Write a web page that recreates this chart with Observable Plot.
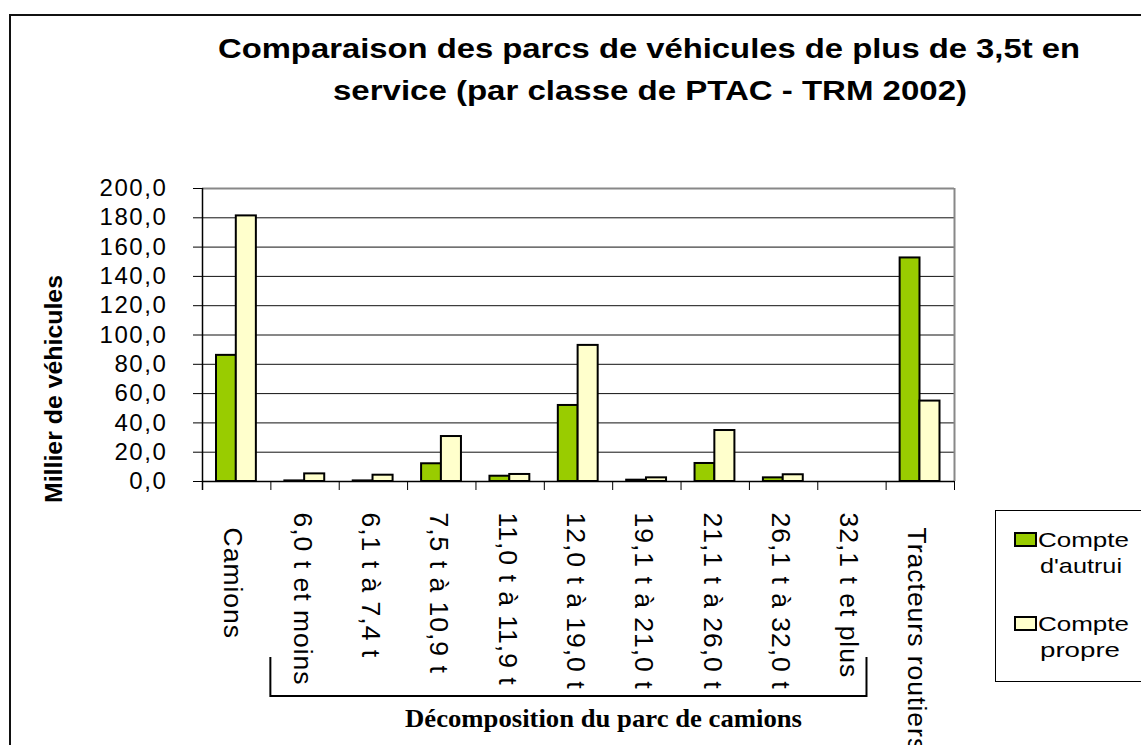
<!DOCTYPE html>
<html>
<head>
<meta charset="utf-8">
<script src="https://cdn.jsdelivr.net/npm/d3@7"></script>
<script src="https://cdn.jsdelivr.net/npm/@observablehq/plot@0.6"></script>
<style>
  html, body { margin: 0; padding: 0; background: #fff; }
  #chart svg { display: block; }
</style>
</head>
<body>
<div id="chart"></div>
<script>
// ---- data ----
const categories = [
  "Camions",
  "6,0 t et moins",
  "6,1 t à 7,4 t",
  "7,5 t à 10,9 t",
  "11,0 t à 11,9 t",
  "12,0 t à 19,0 t",
  "19,1 t à 21,0 t",
  "21,1 t à 26,0 t",
  "26,1 t à 32,0 t",
  "32,1 t et plus",
  "Tracteurs routiers"
];
const compteAutrui = [86.1, 0.4, 0.4, 12.1, 3.6, 51.9, 0.9, 12.3, 2.5, 0, 152.6];
const comptePropre = [181.3, 5.2, 4.3, 30.7, 4.8, 92.9, 2.5, 34.8, 4.6, 0, 54.9];
const seriesNames = ["Compte d'autrui", "Compte propre"];
const seriesColors = ["#99CC00", "#FFFFCC"];
const yTicks = [0, 20, 40, 60, 80, 100, 120, 140, 160, 180, 200];
const titleLines = ["Comparaison des parcs de véhicules de plus de 3,5t en", "service (par classe de PTAC - TRM 2002)"];
const yLabel = "Millier de véhicules";
const groupLabel = "Décomposition du parc de camions";
const totalIdx = [0, 10];

// ---- tables built from the arrays ----
const autruiRows = categories.map((c, i) => ({i, cat: c, value: compteAutrui[i]})).filter(d => d.value > 0);
const propreRows = categories.map((c, i) => ({i, cat: c, value: comptePropre[i]})).filter(d => d.value > 0);
const labelRows = categories.map((c, i) => ({i, c}));
const fmt = d => d.toFixed(1).replace(".", ",");

const W = 1141, H = 745;
const plot = Plot.plot({
  width: W,
  height: H,
  marginLeft: 202,
  marginRight: 187,
  marginTop: 188,
  marginBottom: 264,
  style: {fontFamily: "Arial, 'Liberation Sans', sans-serif", fontSize: "16px", background: "transparent", color: "#000"},
  x: {type: "linear", domain: [0, categories.length], ticks: d3.range(categories.length + 1), tickFormat: () => "", tickSize: 9, label: null},
  y: {domain: [0, 200], ticks: yTicks, tickFormat: fmt, tickSize: 9, tickPadding: 26, label: null},
  marks: [
    Plot.ruleY(yTicks.filter(d => d > 0 && d < 200), {stroke: "#111", strokeWidth: 1}),
    Plot.ruleY([200], {stroke: "#888", strokeWidth: 2}),
    Plot.ruleX([categories.length], {stroke: "#888", strokeWidth: 2}),
    Plot.rectY(autruiRows, {x1: "i", x2: d => d.i + 1, y1: 0, y2: "value", fill: seriesColors[0], stroke: "#000", strokeWidth: 2, insetLeft: 14, insetRight: 34.5}),
    Plot.rectY(propreRows, {x1: "i", x2: d => d.i + 1, y1: 0, y2: "value", fill: seriesColors[1], stroke: "#000", strokeWidth: 2, insetLeft: 33.8, insetRight: 14.5}),
    Plot.ruleY([0], {stroke: "#000", strokeWidth: 1.5}),
    Plot.ruleX([0], {stroke: "#000", strokeWidth: 1.5, insetBottom: -9}),
    Plot.text(labelRows.filter(d => !totalIdx.includes(d.i)), {
      x: d => d.i + 0.5, text: "c", frameAnchor: "bottom", rotate: 90,
      textAnchor: "start", lineAnchor: "middle", dy: 31, dx: -3, fontSize: 26.5
    }),
    Plot.text(labelRows.filter(d => totalIdx.includes(d.i)), {
      x: d => d.i + 0.5, text: "c", frameAnchor: "bottom", rotate: 90,
      textAnchor: "start", lineAnchor: "middle", dy: 46, dx: -4, fontSize: 26.5
    })
  ]
});
document.getElementById("chart").appendChild(plot);

const svg = d3.select(plot);
// style tick labels
svg.selectAll('g[aria-label^="y-axis"] text').style("font-size", "24px").style("letter-spacing", "1.6px");
svg.selectAll('g[aria-label="text"] text').style("letter-spacing", "1px");

const xs = plot.scale("x");
const font = "Arial, 'Liberation Sans', sans-serif";

// border of the chart area
svg.append("path").attr("d", `M10,${H} L10,15 L${W},15`).attr("fill", "none").attr("stroke", "#111").attr("stroke-width", 2);

// title
const tLens = [862, 634];
const tX = [649, 650];
const tY = [58, 100];
titleLines.forEach((t, k) => {
  svg.append("text").attr("x", tX[k]).attr("y", tY[k]).attr("text-anchor", "middle")
    .attr("font-family", font).attr("font-weight", "bold").attr("font-size", 27)
    .attr("textLength", tLens[k]).attr("lengthAdjust", "spacingAndGlyphs").text(t);
});

// y label
svg.append("text").attr("transform", "translate(62,389) rotate(-90)").attr("text-anchor", "middle")
  .attr("font-family", font).attr("font-weight", "bold").attr("font-size", 24)
  .attr("textLength", 228).attr("lengthAdjust", "spacingAndGlyphs").text(yLabel);

// bracket under the truck classes
const bx1 = xs.apply(1), bx2 = xs.apply(9.72);
svg.append("path").attr("d", `M${bx1},657 L${bx1},696 L${bx2},696 L${bx2},657`)
  .attr("fill", "none").attr("stroke", "#000").attr("stroke-width", 2);
svg.append("text").attr("x", 603.5).attr("y", 727).attr("text-anchor", "middle")
  .attr("font-family", "'Times New Roman', 'Liberation Serif', serif").attr("font-weight", "bold").attr("font-size", 25)
  .attr("textLength", 397).attr("lengthAdjust", "spacingAndGlyphs").text(groupLabel);

// legend
svg.append("rect").attr("x", 995.5).attr("y", 510.5).attr("width", 200).attr("height", 171)
  .attr("fill", "#fff").attr("stroke", "#000").attr("stroke-width", 1);
const legY = [533, 617];
const lineLens = [[91, 82], [91, 80]];
seriesNames.forEach((name, k) => {
  const sp = name.indexOf(" ");
  const parts = [name.slice(0, sp), name.slice(sp + 1)];
  svg.append("rect").attr("x", 1015).attr("y", legY[k]).attr("width", 21).attr("height", 13)
    .attr("fill", seriesColors[k]).attr("stroke", "#000").attr("stroke-width", 2);
  svg.append("text").attr("x", 1038).attr("y", legY[k] + 14).attr("text-anchor", "start")
    .attr("font-family", font).attr("font-size", 21)
    .attr("textLength", lineLens[k][0]).attr("lengthAdjust", "spacingAndGlyphs").text(parts[0]);
  svg.append("text").attr("x", 1040).attr("y", legY[k] + 40).attr("text-anchor", "start")
    .attr("font-family", font).attr("font-size", 21)
    .attr("textLength", lineLens[k][1]).attr("lengthAdjust", "spacingAndGlyphs").text(parts[1]);
});
</script>
</body>
</html>
